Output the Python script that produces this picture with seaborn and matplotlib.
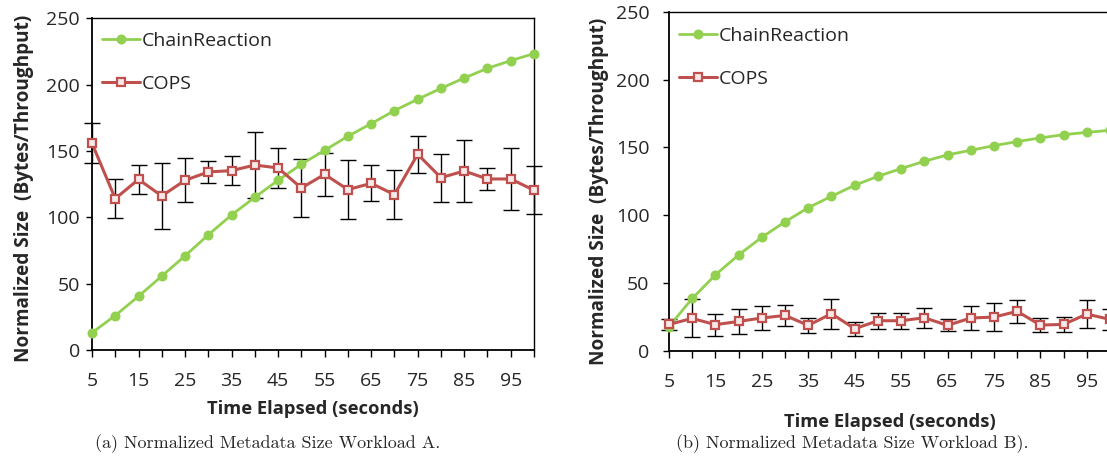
import matplotlib
matplotlib.use("Agg")
import matplotlib.pyplot as plt
import seaborn as sns

# ---- data -------------------------------------------------------------
time_s = [5, 10, 15, 20, 25, 30, 35, 40, 45, 50,
          55, 60, 65, 70, 75, 80, 85, 90, 95, 100]
xtick_labels = ["5", "15", "25", "35", "45", "55", "65", "75", "85", "95"]
ytick_values = [0, 50, 100, 150, 200, 250]

# Workload A
a_chain = [13, 26, 40.5, 55.7, 71, 86.8, 101.8, 115.1, 127.9, 140,
           150.5, 161.1, 170.6, 180.4, 189, 197.2, 205, 212.3, 218.1, 223.4]
a_cops = [155.8, 114.1, 128.6, 116.1, 127.9, 134.2, 135.2, 139.4, 137.2, 122.1,
          132.4, 120.9, 125.6, 117.1, 147.5, 129.9, 134.9, 128.9, 128.9, 120.4]
a_cops_err = [15, 14.5, 11, 25, 16.5, 8, 11, 25, 15, 22,
              16, 22, 13.5, 18.5, 14, 18, 23, 8.5, 23.5, 18]

# Workload B
b_chain = [18, 38.7, 56.1, 70.8, 83.8, 95.2, 105.6, 114, 122.1, 128.7,
           134.4, 139.8, 144.5, 147.9, 151.3, 154.3, 157, 159.4, 161.1, 162.6]
b_cops = [19.6, 24, 19.4, 21.8, 24.3, 26.2, 18.9, 27.5, 16.4, 22.3,
          22.3, 24.5, 18.9, 24.3, 25, 29.2, 19.1, 19.6, 27.2, 23.3]
b_cops_err = [4, 14, 8, 9, 8.5, 7.5, 5.5, 11, 5, 6,
              6, 7.5, 4.5, 8.5, 10.5, 8.5, 5, 5.5, 10.5, 8]

series_names = ["ChainReaction", "COPS"]
captions = ["(a) Normalized Metadata Size Workload A.",
            "(b) Normalized Metadata Size Workload B)."]
xlabel = "Time Elapsed (seconds)"
ylabel = "Normalized Size  (Bytes/Throughput)"

# ---- style ------------------------------------------------------------
GREEN = "#92D050"
RED = "#C0504D"
sns.set_style("ticks")
plt.rcParams["font.family"] = ["Open Sans", "DejaVu Sans"]

W, H = 1107, 462
fig = plt.figure(figsize=(W / 100, H / 100), dpi=100)


def px_rect(x0, y_top, x1, y_bot):
    return [x0 / W, 1 - y_bot / H, (x1 - x0) / W, (y_bot - y_top) / H]


def draw_panel(ax, chain, cops, err, ytick_pad, ylab_x, ylab_y, xlab_y,
               leg_anchor):
    ax.errorbar(time_s, cops, yerr=err, fmt="none", ecolor="black",
                elinewidth=1.0, capsize=6.0, capthick=1.0, zorder=3,
                clip_on=False)
    sns.lineplot(x=time_s, y=chain, ax=ax, color=GREEN, linewidth=2.0,
                 marker="o", markersize=7.2, markeredgewidth=0,
                 markerfacecolor=GREEN, zorder=4, clip_on=False)
    h_chain = ax.lines[-1]
    sns.lineplot(x=time_s, y=cops, ax=ax, color=RED, linewidth=2.2,
                 marker="s", markersize=6.2, markeredgewidth=1.6,
                 markeredgecolor=RED, markerfacecolor="#F8EAEA",
                 zorder=5, clip_on=False)
    h_cops = ax.lines[-1]

    ax.set_xlim(5, 100)
    ax.set_ylim(0, 250)
    ax.set_xticks(time_s)
    ax.set_xticklabels([xtick_labels[i // 2] if i % 2 == 0 else ""
                        for i in range(len(time_s))])
    ax.set_yticks(ytick_values)
    ax.tick_params(axis="x", direction="out", length=5, width=1.0,
                   color="black", labelsize=14, pad=10.5)
    ax.tick_params(axis="y", direction="out", length=4.6, width=1.0,
                   color="black", labelsize=14, pad=ytick_pad)
    for s in ax.spines.values():
        s.set_visible(True)
        s.set_color("black")
        s.set_linewidth(1.0)
    ax.spines["left"].set_linewidth(1.3)
    ax.spines["bottom"].set_linewidth(1.3)

    ax.set_xlabel(xlabel, fontsize=13.2, fontweight="bold")
    ax.set_ylabel(ylabel, fontsize=13.7, fontweight="bold")
    ax.xaxis.set_label_coords(0.5, xlab_y)
    ax.yaxis.set_label_coords(ylab_x, ylab_y)

    ax.legend([h_chain, h_cops], series_names, loc="upper left",
              bbox_to_anchor=leg_anchor, frameon=False, fontsize=14,
              handlelength=1.95, handletextpad=0.1, labelspacing=1.3,
              borderpad=0, borderaxespad=0)


ax_a = fig.add_axes(px_rect(92, 18.3, 534, 350))
draw_panel(ax_a, a_chain, a_cops, a_cops_err, ytick_pad=4.2,
           ylab_x=-0.131, ylab_y=0.488, xlab_y=-0.15,
           leg_anchor=(10 / 442, 0.96))

ax_b = fig.add_axes(px_rect(669, 11.7, 1110, 351))
draw_panel(ax_b, b_chain, b_cops, b_cops_err, ytick_pad=9.4,
           ylab_x=-0.136, ylab_y=0.469, xlab_y=-0.182,
           leg_anchor=(10 / 441, 0.955))

fig.text(268 / W, 1 - 444 / H, captions[0], family="cmr10", fontsize=13,
         ha="center", va="center")
fig.text(852 / W, 1 - 444 / H, captions[1], family="cmr10", fontsize=13,
         ha="center", va="center")

fig.savefig("out.png", dpi=100)
